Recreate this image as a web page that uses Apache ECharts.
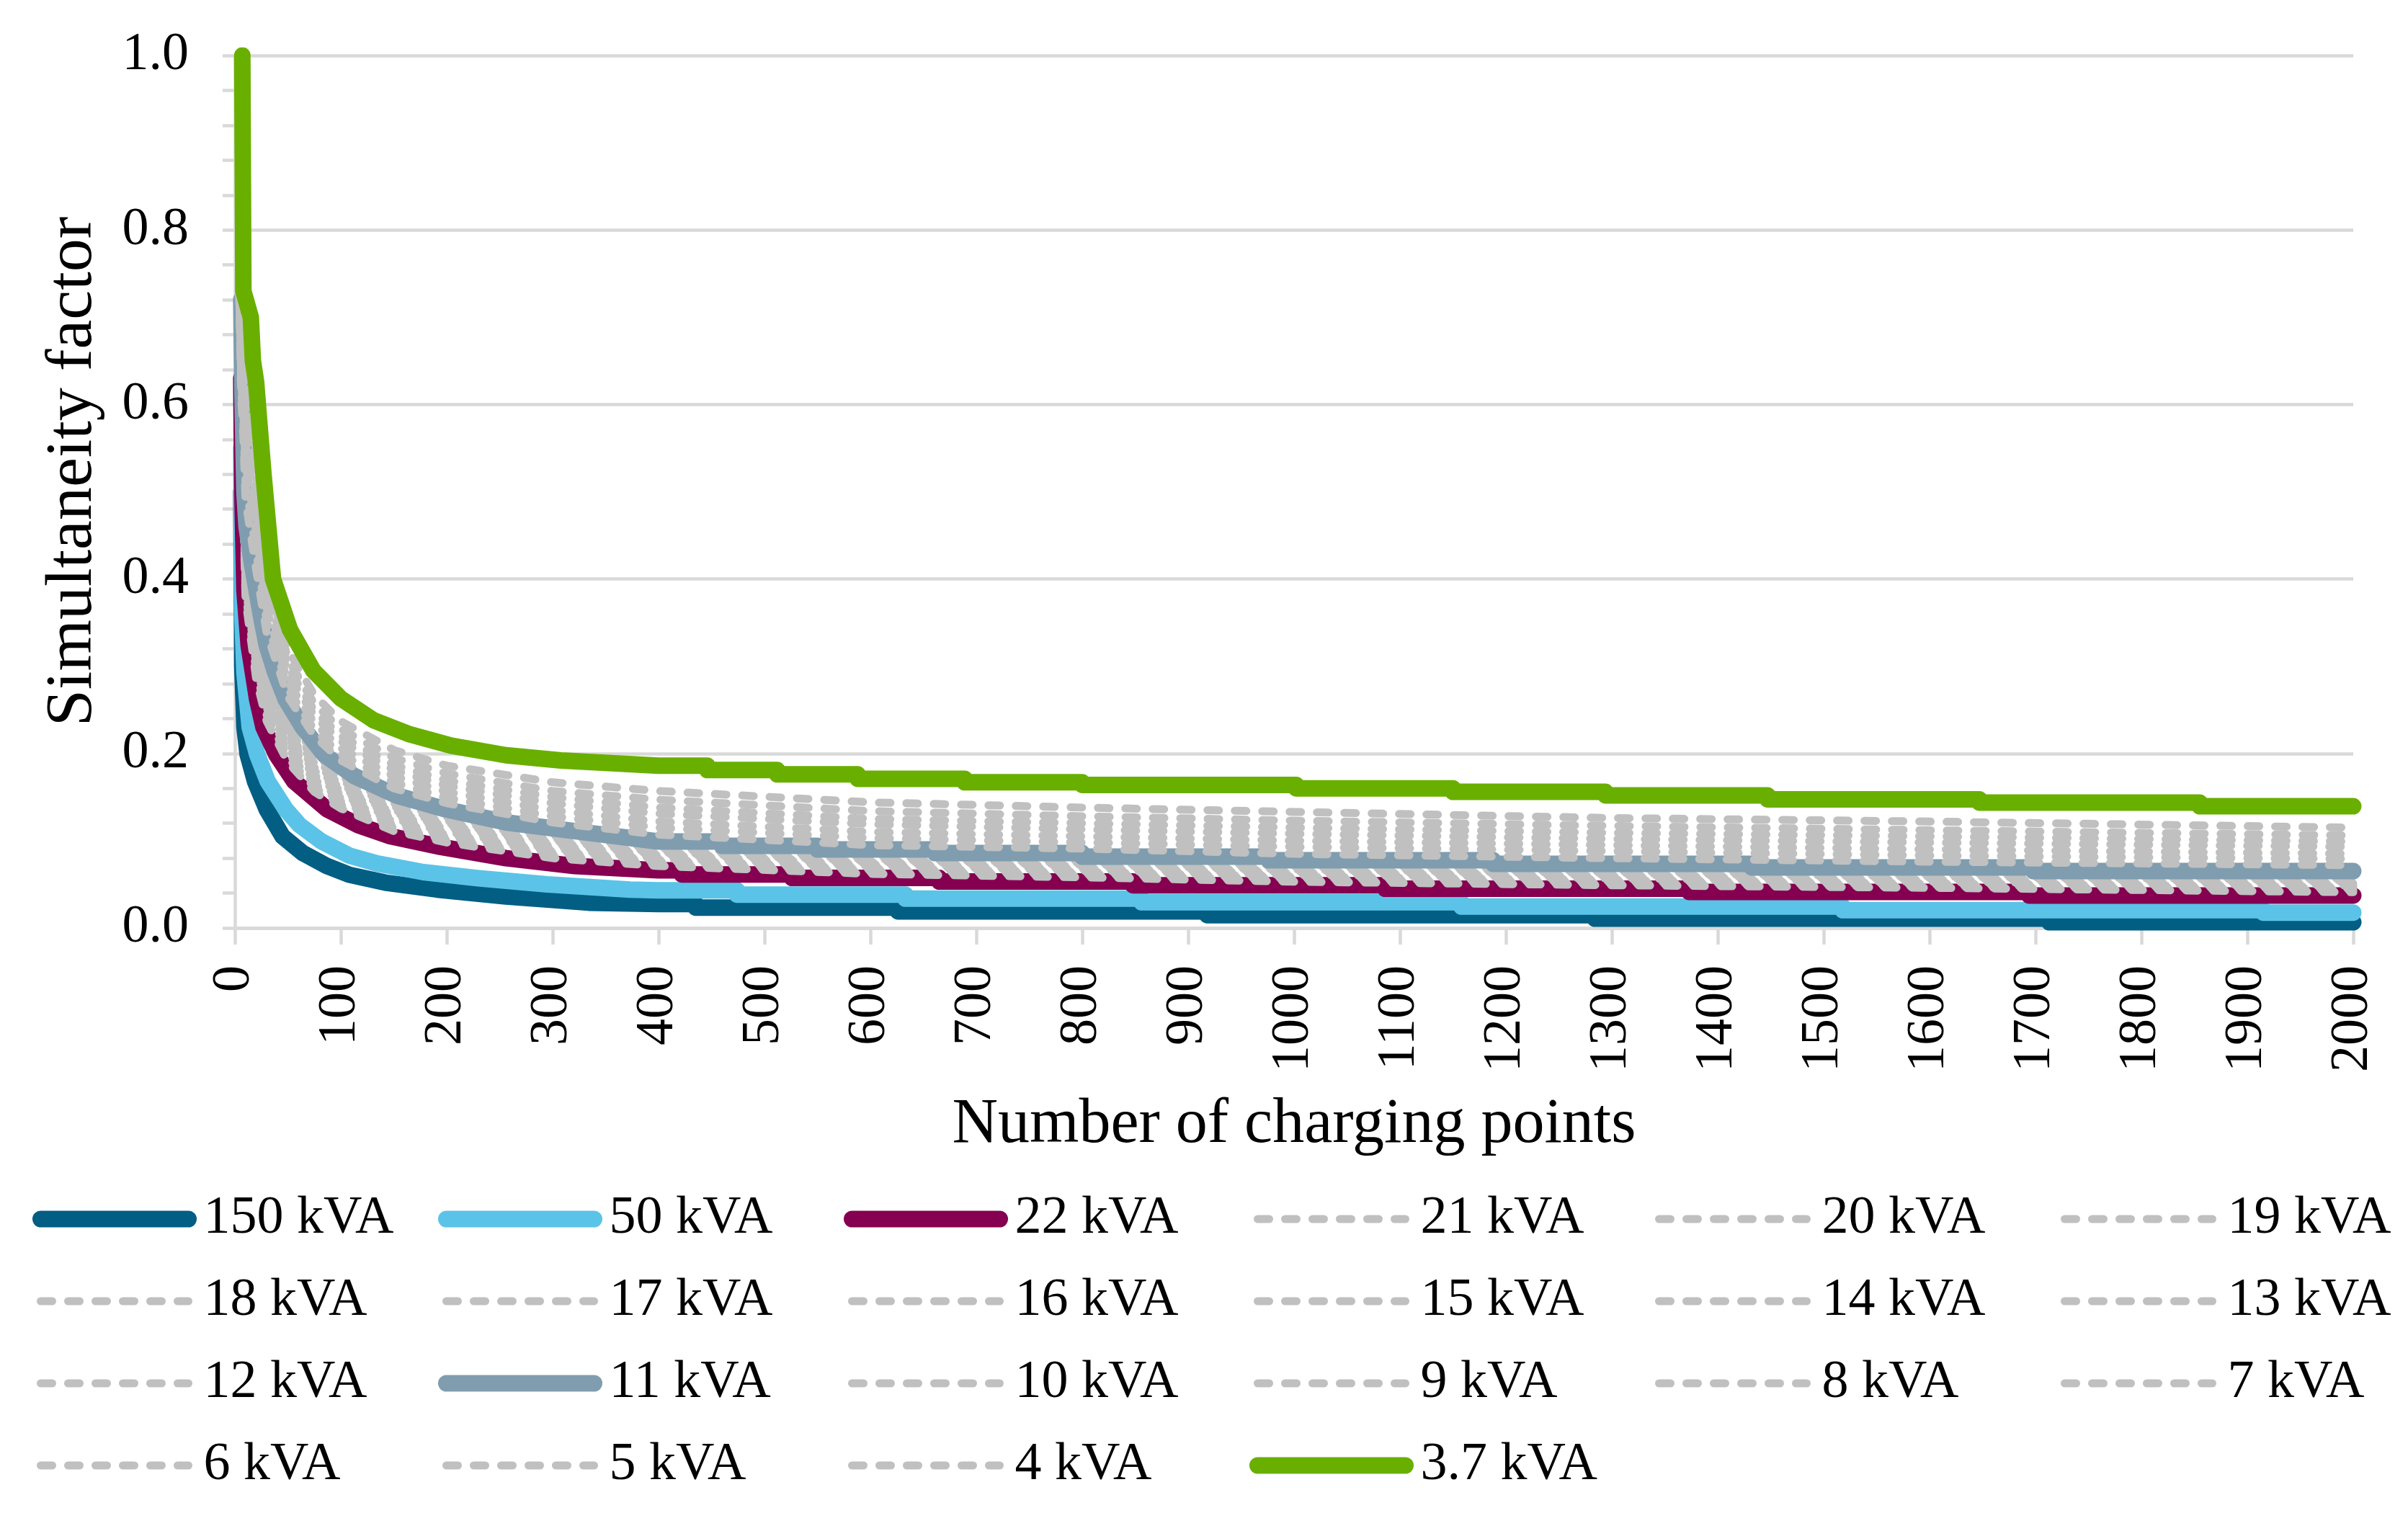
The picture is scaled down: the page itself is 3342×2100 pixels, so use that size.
<!DOCTYPE html>
<html>
<head>
<meta charset="utf-8">
<script src="https://cdn.jsdelivr.net/npm/echarts@6/dist/echarts.min.js"></script>
<style>html,body{margin:0;padding:0;background:#fff}#c{width:3342px;height:2100px}</style>
</head>
<body>
<div id="c"></div>
<script>
const FONT = '"Liberation Serif", "DejaVu Serif", serif';

// ---- data ----
const xAxisMin = 0, xAxisMax = 2000, xInterval = 100;
const yAxisMin = 0, yAxisMax = 1, yInterval = 0.2;

const s150 = [[6,0.50],[7,0.30],[9,0.230],[12,0.199],[19,0.168],[30,0.136],[45,0.105],[64,0.086],[87,0.071],[108,0.061],[142,0.052],[191,0.044],[256,0.036],[334,0.029],[400,0.0275],[435,0.0275],[435,0.0234],[626,0.0234],[626,0.019],[918,0.019],[918,0.0147],[1284,0.0147],[1284,0.0107],[1713,0.0107],[1713,0.0066],[2000,0.0066]];
const s50 = [[6,0.55],[7,0.36],[9,0.293],[14,0.230],[21,0.199],[31,0.168],[48,0.136],[61,0.118],[82,0.099],[108,0.083],[134,0.074],[178,0.064],[230,0.057],[295,0.050],[373,0.044],[400,0.0432],[474,0.0432],[474,0.0382],[633,0.0382],[633,0.0336],[856,0.0336],[856,0.0295],[1158,0.0295],[1158,0.0245],[1518,0.0245],[1518,0.0204],[1915,0.0204],[1915,0.0176],[2000,0.0176]];
const s22 = [[6,0.63],[7,0.50],[9,0.387],[13,0.324],[21,0.262],[27,0.230],[39,0.199],[56,0.168],[87,0.136],[116,0.118],[147,0.105],[194,0.093],[256,0.080],[321,0.071],[400,0.0661],[422,0.0661],[422,0.0614],[526,0.0614],[526,0.0573],[665,0.0573],[665,0.0532],[848,0.0532],[848,0.049],[1086,0.049],[1086,0.045],[1373,0.045],[1373,0.0413],[1694,0.0413],[1694,0.0372],[2000,0.0372]];
const s11 = [[6,0.72],[7,0.62],[9,0.50],[11,0.46],[16,0.418],[25,0.355],[30,0.324],[38,0.293],[48,0.262],[64,0.230],[84,0.199],[113,0.174],[152,0.152],[199,0.136],[256,0.121],[321,0.111],[400,0.0991],[460,0.0991],[460,0.0941],[550,0.0941],[550,0.0900],[661,0.0900],[661,0.0858],[800,0.0858],[800,0.0817],[976,0.0817],[976,0.0776],[1188,0.0776],[1188,0.0734],[1432,0.0734],[1432,0.0694],[1698,0.0694],[1698,0.0652],[2000,0.0652]];
const s37 = [[7,1.0],[8,0.73],[15,0.70],[17,0.65],[20,0.626],[23,0.58],[25,0.55],[27,0.52],[30,0.48],[36,0.40],[52,0.342],[74,0.295],[100,0.263],[131,0.238],[165,0.222],[204,0.209],[256,0.198],[308,0.192],[400,0.186],[446,0.186],[446,0.181],[512,0.181],[512,0.176],[588,0.176],[588,0.171],[689,0.171],[689,0.167],[800,0.167],[800,0.164],[1002,0.164],[1002,0.160],[1150,0.160],[1150,0.156],[1294,0.156],[1294,0.152],[1447,0.152],[1447,0.1475],[1647,0.1475],[1647,0.1437],[1855,0.1437],[1855,0.1395],[2000,0.1395]];

// grey dashed series share these x positions
const grayX = [4,6,8,10,20,30,50,75,100,150,200,300,400,600,800,1000,1300,1600,2000];
const g21 = [0.644,0.532,0.474,0.377,0.286,0.237,0.190,0.156,0.137,0.111,0.098,0.080,0.071,0.062,0.058,0.053,0.049,0.046,0.041];
const g20 = [0.650,0.538,0.480,0.384,0.295,0.244,0.195,0.161,0.141,0.115,0.101,0.083,0.073,0.064,0.060,0.055,0.051,0.047,0.043];
const g19 = [0.656,0.543,0.486,0.392,0.303,0.252,0.201,0.165,0.145,0.118,0.104,0.086,0.076,0.066,0.062,0.057,0.053,0.049,0.045];
const g18 = [0.662,0.549,0.492,0.400,0.312,0.259,0.206,0.170,0.149,0.122,0.107,0.088,0.078,0.068,0.064,0.059,0.055,0.051,0.047];
const g17 = [0.669,0.554,0.499,0.407,0.320,0.266,0.212,0.175,0.153,0.125,0.110,0.091,0.080,0.071,0.066,0.061,0.057,0.053,0.049];
const g16 = [0.675,0.560,0.505,0.415,0.329,0.273,0.218,0.180,0.157,0.129,0.114,0.094,0.083,0.073,0.068,0.063,0.059,0.055,0.051];
const g15 = [0.681,0.566,0.511,0.423,0.338,0.280,0.223,0.184,0.160,0.132,0.117,0.097,0.085,0.075,0.071,0.065,0.061,0.057,0.053];
const g14 = [0.688,0.571,0.518,0.430,0.346,0.287,0.229,0.189,0.164,0.135,0.120,0.100,0.087,0.077,0.073,0.067,0.063,0.059,0.055];
const g13 = [0.695,0.578,0.525,0.439,0.356,0.295,0.235,0.194,0.169,0.139,0.123,0.103,0.090,0.079,0.075,0.070,0.065,0.062,0.057];
const g12 = [0.702,0.584,0.532,0.448,0.366,0.304,0.241,0.200,0.174,0.143,0.127,0.106,0.092,0.082,0.078,0.072,0.068,0.064,0.060];
const g10 = [0.727,0.609,0.564,0.491,0.411,0.338,0.265,0.220,0.192,0.160,0.143,0.121,0.107,0.095,0.091,0.085,0.080,0.076,0.072];
const g9  = [0.734,0.618,0.577,0.511,0.432,0.352,0.274,0.227,0.199,0.167,0.149,0.128,0.115,0.103,0.098,0.093,0.088,0.083,0.079];
const g8  = [0.742,0.627,0.591,0.532,0.454,0.366,0.282,0.235,0.206,0.174,0.156,0.135,0.122,0.110,0.105,0.100,0.095,0.090,0.085];
const g7  = [0.750,0.637,0.606,0.555,0.477,0.382,0.291,0.243,0.214,0.181,0.163,0.143,0.131,0.119,0.113,0.108,0.102,0.098,0.093];
const g6  = [0.756,0.645,0.618,0.574,0.496,0.394,0.299,0.249,0.220,0.187,0.169,0.150,0.138,0.125,0.120,0.115,0.109,0.105,0.099];
const g5  = [0.764,0.655,0.633,0.597,0.520,0.410,0.308,0.257,0.228,0.195,0.177,0.157,0.147,0.134,0.128,0.123,0.117,0.112,0.106];
const g4  = [0.774,0.667,0.650,0.624,0.548,0.429,0.319,0.267,0.237,0.204,0.186,0.167,0.157,0.144,0.138,0.133,0.126,0.122,0.115];

// series in drawing / legend order
const seriesDefs = [
  {name:'150 kVA', data:s150, color:'#025E83', solid:true},
  {name:'50 kVA',  data:s50,  color:'#5BC3E7', solid:true},
  {name:'22 kVA',  data:s22,  color:'#850050', solid:true},
  {name:'21 kVA',  vals:g21},{name:'20 kVA', vals:g20},{name:'19 kVA', vals:g19},
  {name:'18 kVA',  vals:g18},{name:'17 kVA', vals:g17},{name:'16 kVA', vals:g16},
  {name:'15 kVA',  vals:g15},{name:'14 kVA', vals:g14},{name:'13 kVA', vals:g13},
  {name:'12 kVA',  vals:g12},
  {name:'11 kVA',  data:s11,  color:'#7F9DAF', solid:true},
  {name:'10 kVA',  vals:g10},{name:'9 kVA', vals:g9},{name:'8 kVA', vals:g8},
  {name:'7 kVA',   vals:g7},{name:'6 kVA', vals:g6},{name:'5 kVA', vals:g5},{name:'4 kVA', vals:g4},
  {name:'3.7 kVA', data:s37,  color:'#69AF00', solid:true}
];

const legendColumns = [
  ['150 kVA','18 kVA','12 kVA','6 kVA'],
  ['50 kVA','17 kVA','11 kVA','5 kVA'],
  ['22 kVA','16 kVA','10 kVA','4 kVA'],
  ['21 kVA','15 kVA','9 kVA','3.7 kVA'],
  ['20 kVA','14 kVA','8 kVA'],
  ['19 kVA','13 kVA','7 kVA']
];

const series = seriesDefs.map(d => {
  const data = d.data ? d.data : grayX.map((x, i) => [x, d.vals[i]]);
  return {
    name: d.name, type: 'line', data: data, symbol: 'none', silent: true,
    lineStyle: d.solid
      ? {color: d.color, width: 23, cap: 'round', join: 'round'}
      : {color: '#C0C0C0', width: 11, type: [16, 22], cap: 'round', join: 'round'},
    itemStyle: {color: d.solid ? d.color : '#C0C0C0'},
    emphasis: {disabled: true}
  };
});

const legends = legendColumns.map((col, c) => ({
  orient: 'vertical', left: 45 + c * 563, top: 1655, padding: 0,
  itemWidth: 205, itemHeight: 22, itemGap: 40, selectedMode: false,
  data: col,
  lineStyle: {width: 'inherit', cap: 'round', join: 'round'},
  itemStyle: {opacity: 0},
  textStyle: {fontFamily: FONT, fontSize: 74, color: '#000', padding: [0, 0, 0, 16]}
}));

const chart = echarts.init(document.getElementById('c'));
chart.setOption({
  animation: false,
  backgroundColor: '#fff',
  grid: {left: 326, top: 77, width: 2940, height: 1211, containLabel: false},
  legend: legends,
  xAxis: {
    type: 'value', min: xAxisMin, max: xAxisMax, interval: xInterval,
    name: 'Number of charging points', nameLocation: 'middle', nameGap: 230,
    nameTextStyle: {fontFamily: FONT, fontSize: 88, color: '#000'},
    axisLine: {show: true, lineStyle: {color: '#D9D9D9', width: 4.5}},
    axisTick: {show: true, length: 23, lineStyle: {color: '#D9D9D9', width: 4.5}},
    splitLine: {show: false},
    axisLabel: {rotate: 90, margin: 52, fontFamily: FONT, fontSize: 74, color: '#000', formatter: v => String(v)}
  },
  yAxis: {
    type: 'value', min: yAxisMin, max: yAxisMax, interval: yInterval,
    name: 'Simultaneity factor', nameLocation: 'middle', nameGap: 178,
    nameTextStyle: {fontFamily: FONT, fontSize: 92, color: '#000', padding: [0, 0, 0, 56]},
    axisLine: {show: true, lineStyle: {color: '#D9D9D9', width: 4.5}},
    axisTick: {show: true, length: 17, lineStyle: {color: '#D9D9D9', width: 4.5}},
    minorTick: {show: true, splitNumber: 5, length: 17, lineStyle: {color: '#D9D9D9', width: 4.5}},
    splitLine: {show: true, lineStyle: {color: '#D9D9D9', width: 4.5}},
    axisLabel: {margin: 64, fontFamily: FONT, fontSize: 74, color: '#000', formatter: v => v.toFixed(1)}
  },
  series: series
});
</script>
</body>
</html>
